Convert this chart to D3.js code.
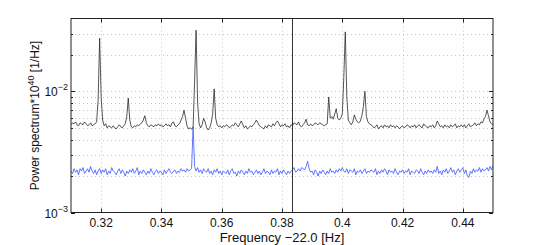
<!DOCTYPE html>
<html><head><meta charset="utf-8">
<script src="https://cdn.jsdelivr.net/npm/d3@7"></script>
<style>
html,body{margin:0;padding:0;background:#fff;}
svg{display:block;font-family:"Liberation Sans",Arial,sans-serif;}
</style></head>
<body><svg id="c" width="545" height="245"></svg>
<script>
// Frequency grid (Hz, offset by -22.0)
const freqStart = 0.31, freqStep = 0.0005;
// Black spectrum, in units of 1e-3 (×1e40 /Hz)
const blackSeries = [
5.3,5.5,5.4,5.6,5.3,5.2,5.5,5.4,5.3,5.6,5.4,5.2,5.3,5.5,5.2,5.3,5.4,5.6,8.5,27.5,
9.0,5.8,5.2,5.4,5.0,5.2,5.1,5.0,5.2,5.0,4.9,5.1,5.3,5.1,5.0,5.2,5.4,6.2,8.8,5.8,
5.1,5.0,5.2,5.1,5.3,5.2,5.4,5.5,5.8,6.3,5.5,5.2,5.1,5.3,5.2,5.1,5.3,5.2,5.4,5.2,
5.3,5.1,5.2,5.4,5.2,5.3,5.1,5.5,5.6,5.2,5.1,5.3,5.4,5.8,6.2,7.0,6.0,5.2,4.9,5.0,
4.9,5.0,12.0,32.0,8.0,5.4,5.0,5.3,6.0,5.6,5.0,4.8,5.0,5.5,6.5,10.5,6.0,5.3,5.1,5.2,
5.0,5.2,5.1,5.3,5.2,5.0,5.1,5.3,5.2,5.5,5.3,5.1,5.4,5.7,5.3,5.0,5.2,4.9,5.0,5.2,
5.1,5.3,5.5,5.8,5.5,5.2,5.1,5.0,4.9,5.2,5.0,5.3,5.2,5.1,5.4,5.2,5.5,5.7,5.4,5.1,
5.3,5.2,5.4,5.1,5.2,5.0,5.3,5.2,5.5,5.4,5.3,5.6,5.2,5.1,5.3,5.5,5.9,5.3,5.2,5.4,
5.2,5.3,5.5,5.4,5.3,5.5,5.4,5.3,5.2,5.3,5.4,9.0,6.0,6.2,5.9,6.5,7.2,6.0,5.8,6.0,
6.5,13.0,31.0,9.0,5.8,5.5,5.3,5.6,6.4,5.9,5.6,5.5,5.7,6.3,7.5,10.0,6.2,5.6,5.4,5.3,
5.2,5.0,5.1,5.3,4.9,5.1,5.2,5.0,5.3,5.1,5.2,5.0,5.3,5.1,5.2,5.0,5.2,5.1,4.9,5.1,
5.2,5.0,5.1,5.3,5.2,5.0,5.2,5.1,5.3,5.0,5.2,5.3,5.1,5.0,5.4,5.2,5.1,5.0,5.2,5.1,
5.3,5.0,5.2,5.7,5.4,5.1,5.2,5.0,5.3,5.1,5.2,5.0,5.3,5.1,5.2,5.4,5.0,5.2,5.1,5.3,
5.1,5.3,5.0,5.2,5.4,5.1,5.2,5.3,5.5,5.2,5.4,5.3,5.6,5.5,5.9,6.2,7.0,6.3,5.6,5.4,5.3
];
// Blue spectrum, in units of 1e-3
const blueSeries = [
2.2,2.1,2.3,2.15,2.25,2.05,2.3,2.2,2.35,2.1,2.2,2.3,2.15,2.4,2.2,2.1,2.25,2.05,2.2,2.3,
2.1,2.25,2.15,2.3,2.05,2.2,2.1,2.35,2.2,2.15,2.05,2.2,2.3,2.1,2.25,2.15,2.0,2.2,2.1,2.25,
2.15,2.3,2.1,2.2,2.35,2.05,2.2,2.1,2.25,2.15,2.05,2.2,2.1,2.3,2.15,2.05,2.2,2.25,2.1,2.2,
2.15,2.05,2.25,2.1,2.2,2.3,2.15,2.1,2.2,2.25,2.1,2.2,2.15,2.3,2.2,2.25,2.15,2.3,2.2,2.25,
2.3,5.1,2.4,2.2,2.35,2.15,2.25,2.1,2.3,2.2,2.15,2.3,2.1,2.2,2.05,2.25,2.15,2.3,2.1,2.2,
2.05,2.2,2.15,2.1,2.25,2.05,2.2,2.3,2.1,2.15,2.0,2.2,2.1,2.25,2.15,2.05,2.2,2.1,2.3,2.15,
2.2,2.05,2.15,2.25,2.1,2.2,2.05,2.15,2.3,2.1,2.2,2.15,2.05,2.25,2.1,2.2,2.15,2.3,2.05,2.2,
2.1,2.25,2.15,2.05,2.2,2.1,2.2,2.25,2.35,2.15,2.2,2.3,2.2,2.35,2.3,2.25,2.4,2.65,2.3,2.15,
2.2,2.05,2.25,2.15,2.0,2.2,2.1,2.25,2.15,2.05,2.2,2.1,2.3,2.15,2.2,2.1,2.25,2.15,2.3,2.2,
2.35,2.2,2.15,2.3,2.1,2.25,2.2,2.15,2.3,2.05,2.2,2.15,2.25,2.1,2.2,2.3,2.1,2.2,2.15,2.25,
2.2,2.15,2.3,2.05,2.2,2.1,2.25,2.15,2.3,2.2,2.05,2.25,2.15,2.2,2.1,2.3,2.15,2.05,2.2,2.15,
2.25,2.1,2.2,2.15,2.3,2.05,2.2,2.15,2.1,2.25,2.2,2.1,2.3,2.15,2.05,2.2,2.1,2.25,2.15,2.2,
2.1,2.25,2.15,2.4,2.1,2.2,2.05,2.25,2.15,2.3,2.1,2.2,2.35,2.15,2.25,2.05,2.2,2.3,2.15,2.25,
2.35,2.1,2.25,2.0,1.95,2.2,2.1,2.3,2.15,2.25,2.2,2.35,2.15,2.3,2.2,2.25,2.35,2.2,2.4,2.25,2.45
];
const xTicks = [0.32,0.34,0.36,0.38,0.40,0.42,0.44];
const xTickLabels = ["0.32","0.34","0.36","0.38","0.4","0.42","0.44"];
const yMajor = [1e-3,1e-2];
const yMajorExp = ["\u22123","\u22122"];
const yMinor = [2e-3,3e-3,4e-3,5e-3,6e-3,7e-3,8e-3,9e-3,2e-2,3e-2];
const markerFreq = 0.3832;
const xDomain = [0.31,0.45], yDomain = [1e-3,4e-2];

const svg = d3.select("#c");
const L=71, R=493, T=18.5, B=212.5;
const x = d3.scaleLinear().domain(xDomain).range([L,R]);
const y = d3.scaleLog().domain(yDomain).range([B,T]);

const grid = svg.append("g").attr("stroke","#b8b8b8").attr("stroke-width",0.8).attr("stroke-dasharray","1,3");
xTicks.forEach(t=>grid.append("line").attr("x1",Math.round(x(t))+0.5).attr("x2",Math.round(x(t))+0.5).attr("y1",T).attr("y2",B));
yMajor.concat(yMinor).forEach(v=>{ if(v>yDomain[0]) grid.append("line").attr("x1",L).attr("x2",R).attr("y1",Math.round(y(v))+0.5).attr("y2",Math.round(y(v))+0.5);});

svg.append("clipPath").attr("id","cp").append("rect").attr("x",L).attr("y",T).attr("width",R-L).attr("height",B-T);
const line = d3.line().x((d,i)=>x(freqStart+i*freqStep)).y(d=>y(d*1e-3));
const plot = svg.append("g").attr("clip-path","url(#cp)");
plot.append("path").datum(blueSeries).attr("d",line).attr("fill","none").attr("stroke","#3b55ff").attr("stroke-width",0.8);
plot.append("path").datum(blackSeries).attr("d",line).attr("fill","none").attr("stroke","#2b2b2b").attr("stroke-width",0.8);
plot.append("line").attr("x1",Math.round(x(markerFreq))+0.5).attr("x2",Math.round(x(markerFreq))+0.5).attr("y1",T).attr("y2",B).attr("stroke","#333").attr("stroke-width",1);

svg.append("rect").attr("x",L).attr("y",T).attr("width",R-L).attr("height",B-T).attr("fill","none").attr("stroke","#222").attr("stroke-width",1);
const tk = svg.append("g").attr("stroke","#222").attr("stroke-width",1);
xTicks.forEach(t=>{const px=Math.round(x(t))+0.5;
  tk.append("line").attr("x1",px).attr("x2",px).attr("y1",B).attr("y2",B-4);
  tk.append("line").attr("x1",px).attr("x2",px).attr("y1",T).attr("y2",T+4);});
yMajor.forEach(v=>{const py=Math.round(y(v))+0.5;
  tk.append("line").attr("x1",L).attr("x2",L+4).attr("y1",py).attr("y2",py);
  tk.append("line").attr("x1",R).attr("x2",R-4).attr("y1",py).attr("y2",py);});
yMinor.forEach(v=>{const py=Math.round(y(v))+0.5;
  tk.append("line").attr("x1",L).attr("x2",L+2).attr("y1",py).attr("y2",py);
  tk.append("line").attr("x1",R).attr("x2",R-2).attr("y1",py).attr("y2",py);});

svg.append("g").selectAll("text").data(xTicks).join("text")
  .attr("x",d=>x(d)).attr("y",227).attr("text-anchor","middle").attr("font-size",12).attr("fill","#111")
  .text((d,i)=>xTickLabels[i]);
yMajor.forEach((v,i)=>{
  const t = svg.append("text").attr("x",68).attr("y",y(v)+5).attr("text-anchor","end").attr("font-size",12).attr("fill","#111");
  t.append("tspan").text("10");
  t.append("tspan").attr("dy",-6).attr("font-size",9).text(yMajorExp[i]);
});
svg.append("text").attr("x",(L+R)/2).attr("y",242).attr("text-anchor","middle").attr("font-size",13).attr("fill","#111")
  .text("Frequency \u221222.0 [Hz]");
const yl = svg.append("text").attr("transform",`translate(39,${(T+B)/2}) rotate(-90)`).attr("text-anchor","middle").attr("font-size",12).attr("fill","#111");
yl.append("tspan").text("Power spectrum*10");
yl.append("tspan").attr("dy",-5).attr("font-size",9).text("40");
yl.append("tspan").attr("dy",5).text(" [1/Hz]");
</script></body></html>
